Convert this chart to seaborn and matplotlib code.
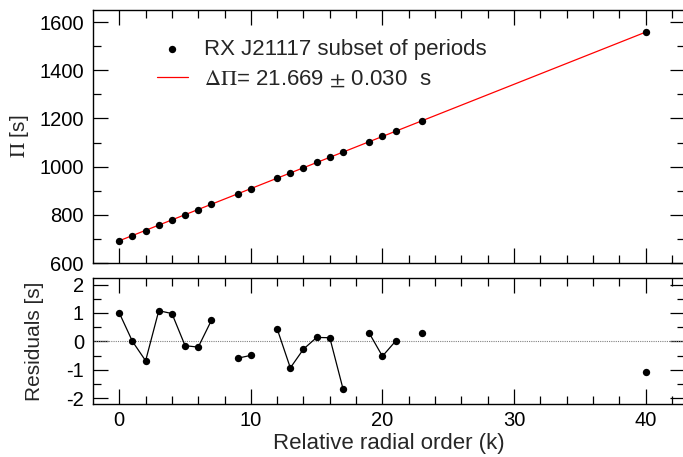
import numpy as np
import pandas as pd
import matplotlib
matplotlib.use("Agg")
import matplotlib.pyplot as plt
import seaborn as sns

# Data
k_order = [0, 1, 2, 3, 4, 5, 6, 7, 9, 10, 12, 13, 14, 15, 16, 17, 19, 20, 21, 23, 40]
periods = [693.0, 713.7, 734.7, 758.1, 779.7, 800.2, 821.8, 844.4, 886.4, 909.2,
           952.5, 972.8, 995.1, 1017.2, 1038.8, 1058.7, 1104.0, 1125.9, 1147.1,
           1190.7, 1557.7]
residuals = [1.00, 0.00, -0.68, 1.08, 0.98, -0.15, -0.20, 0.74, -0.59, -0.49,
             0.44, -0.93, -0.27, 0.14, 0.13, -1.66, 0.29, -0.52, 0.01, 0.29, -1.06]
segment = [0, 0, 0, 0, 0, 0, 0, 0, 1, 1, 2, 2, 2, 2, 2, 2, 3, 3, 3, 4, 5]
legend_points = "RX J21117 subset of periods"
legend_fit = r"$\Delta\Pi$= 21.669 $\pm$ 0.030  s"

df = pd.DataFrame({"k": k_order, "P": periods, "res": residuals, "seg": segment})

sns.set_style("ticks")
plt.rcParams["font.family"] = ["Liberation Sans", "DejaVu Sans"]
plt.rcParams["mathtext.fontset"] = "stix"
plt.rcParams["axes.unicode_minus"] = False

fig = plt.figure(figsize=(6.83, 4.57), dpi=100)
gs = fig.add_gridspec(2, 1, height_ratios=[253, 126], hspace=0.079,
                      left=93 / 683, right=685 / 683, top=1 - 10 / 457, bottom=1 - 404 / 457)
ax1 = fig.add_subplot(gs[0])
ax2 = fig.add_subplot(gs[1], sharex=ax1)

# Fit line
coef = np.polyfit(df["k"], df["P"], 1)
kk = np.array([0, 40])
fit_df = pd.DataFrame({"k": kk, "P": np.polyval(coef, kk)})
sns.lineplot(data=fit_df, x="k", y="P", ax=ax1, color="red", lw=0.9,
             label=legend_fit, zorder=2)
sns.scatterplot(data=df, x="k", y="P", ax=ax1, color="black", s=28,
                linewidth=0, label=legend_points, zorder=3)

h, l = ax1.get_legend_handles_labels()
ax1.legend([h[1], h[0]], [l[1], l[0]], loc="upper left", bbox_to_anchor=(0.108, 0.885),
           frameon=False, fontsize=16, handlelength=1.4, labelspacing=0.38,
           handletextpad=0.72, borderpad=0, borderaxespad=0, scatterpoints=1)

ax1.set_ylim(600, 1650)
ax1.set_yticks([600, 800, 1000, 1200, 1400, 1600])
ax1.set_yticks(np.arange(700, 1650, 200), minor=True)
ax1.set_ylabel(r"$\Pi$ [s]", fontsize=15)
ax1.set_xlabel("")
plt.setp(ax1.get_xticklabels(), visible=False)

# Residuals
ax2.axhline(0, color="gray", lw=0.8, ls=(0, (1, 1)), zorder=1)
sns.lineplot(data=df, x="k", y="res", units="seg", estimator=None, ax=ax2,
             color="black", lw=0.9, zorder=2)
sns.scatterplot(data=df, x="k", y="res", ax=ax2, color="black", s=28,
                linewidth=0, zorder=3)
ax2.set_ylim(-2.2, 2.23)
ax2.set_yticks([-2, -1, 0, 1, 2])
ax2.set_yticks([-1.5, -0.5, 0.5, 1.5], minor=True)
ax2.set_ylabel("Residuals [s]", fontsize=15)
ax2.set_xlabel("Relative radial order (k)", fontsize=16, labelpad=2)

ax2.set_xlim(-2, 43)
ax2.set_xticks([0, 10, 20, 30, 40])
ax2.set_xticks(np.arange(0, 43, 2), minor=True)

for ax in (ax1, ax2):
    ax.tick_params(which="both", direction="in", top=True, right=True,
                   labelsize=14.5, width=0.9, colors="black")
    ax.tick_params(which="major", length=11)
    ax.tick_params(which="minor", length=5.5)
    ax.tick_params(axis="y", which="major", pad=6.5)
    ax.tick_params(axis="x", which="major", pad=5)
    for sp in ax.spines.values():
        sp.set_linewidth(1.0)
        sp.set_color("black")

ax1.yaxis.set_label_coords(-0.105, 0.5)
ax2.yaxis.set_label_coords(-0.083, 0.5)

fig.savefig("out.png", dpi=100)
